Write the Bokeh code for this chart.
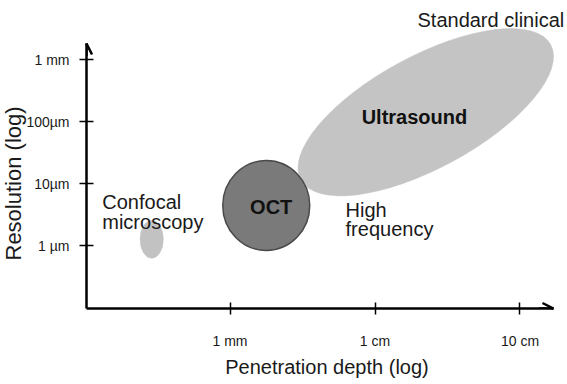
import math
from bokeh.plotting import figure
from bokeh.models import Range1d, FixedTicker, Label, Arrow, OpenHead, ColumnDataSource, Title
from bokeh.embed import file_html
from bokeh.resources import INLINE

# ---- data (log10 units): x = log10(depth / 1 mm), y = log10(resolution / 1 um)
x_ticks = [0, 1, 2]
x_tick_labels = ["1 mm", "1 cm", "10 cm"]
y_ticks = [0, 1, 2, 3]
y_tick_labels = ["1 \u00b5m", "10\u00b5m", "100\u00b5m", "1 mm"]

modalities = ["Confocal microscopy", "Ultrasound", "OCT"]
depth_center = [-0.54, 1.35, 0.25]
res_center = [0.10, 2.15, 0.645]
depth_width = [0.16, 1.96, 0.60]
res_height = [0.61, 1.81, 1.45]
tilt_deg = [0.0, 28.4, 0.0]

# text annotations (label, x, y)
inner_labels = ["Ultrasound", "OCT"]
inner_x = [1.272, 0.284]
inner_y = [2.065, 0.629]
outer_labels = ["Confocal", "microscopy", "High", "frequency", "Standard clinical"]
outer_x = [-0.881, -0.881, 0.797, 0.797, 1.293]
outer_y = [0.698, 0.376, 0.565, 0.269, 3.640]

FONT = "Liberation Sans"

x_start, x_end = -0.9897, 2.3276
y_start, y_end = -1.016, 3.952
x_axis_end = 2.231
y_axis_end = 3.258

p = figure(width=567, height=384,
           x_range=Range1d(x_start, x_end), y_range=Range1d(y_start, y_end),
           output_backend="svg", toolbar_location=None,
           min_border_left=86, min_border_bottom=76, min_border_top=0, min_border_right=0)
p.outline_line_color = None
p.xgrid.visible = False
p.ygrid.visible = False
p.background_fill_color = "white"
p.border_fill_color = "white"

src = ColumnDataSource(dict(
    x=depth_center, y=res_center, w=depth_width, h=res_height,
    a=[math.radians(t) for t in tilt_deg],
    fc=["#c2c2c2", "#c4c4c4", "#7a7a7a"],
    lc=["#c2c2c2", "#c4c4c4", "#4a4a4a"],
    lw=[0.5, 0.5, 1.5],
    name=modalities,
))
p.ellipse(x="x", y="y", width="w", height="h", angle="a", source=src,
          fill_color="fc", line_color="lc", line_width="lw")

for ax, ticks, labels in ((p.xaxis, x_ticks, x_tick_labels), (p.yaxis, y_ticks, y_tick_labels)):
    ax.ticker = FixedTicker(ticks=ticks, minor_ticks=[])
    ax.major_label_overrides = {t: l for t, l in zip(ticks, labels)}
    ax.axis_line_width = 2.5
    ax.axis_line_color = "black"
    ax.major_tick_line_color = "black"
    ax.major_tick_line_width = 1.5
    ax.minor_tick_line_color = None
    ax.major_label_text_font = FONT
    ax.major_label_text_font_size = "14px"
    ax.major_label_text_color = "#1a1a1a"
    ax.axis_label_text_font = FONT
    ax.axis_label_text_font_style = "normal"
    ax.axis_label_text_color = "#1a1a1a"

p.xaxis.bounds = (x_start, x_axis_end)
p.yaxis.bounds = (y_start, y_axis_end)
p.xaxis.major_tick_in = 6
p.xaxis.major_tick_out = 6
p.yaxis.major_tick_in = 7
p.yaxis.major_tick_out = 7
p.xaxis.major_label_standoff = 18
p.yaxis.major_label_standoff = 10

p.xaxis.axis_label = "Penetration depth (log)"
p.xaxis.axis_label_text_font_size = "20px"
p.xaxis.axis_label_standoff = 4

# y-axis title, placed as a side title so it can sit low along the axis
p.add_layout(Title(text="Resolution (log)", align="left", offset=48, standoff=-5,
                   text_font=FONT, text_font_size="22px", text_font_style="normal",
                   text_color="#1a1a1a"), "left")

# arrow heads on axes
p.add_layout(Arrow(end=OpenHead(size=11, line_width=2.5, line_color="black"),
                   x_start=x_axis_end - 0.1, y_start=y_start, x_end=x_axis_end, y_end=y_start,
                   line_width=2.5, line_color="black"))
p.add_layout(Arrow(end=OpenHead(size=11, line_width=2.5, line_color="black"),
                   x_start=x_start, y_start=y_axis_end - 0.2, x_end=x_start, y_end=y_axis_end,
                   line_width=2.5, line_color="black"))

for t, x, y in zip(inner_labels, inner_x, inner_y):
    p.add_layout(Label(x=x, y=y, text=t, text_align="center", text_baseline="middle",
                       text_font=FONT, text_font_size="20px", text_font_style="bold",
                       text_color="#111111"))

for t, x, y in zip(outer_labels, outer_x, outer_y):
    p.add_layout(Label(x=x, y=y, text=t, text_align="left", text_baseline="alphabetic",
                       text_font=FONT, text_font_size="20px", text_color="#1a1a1a"))

open("out.html", "w").write(file_html(p, INLINE))
